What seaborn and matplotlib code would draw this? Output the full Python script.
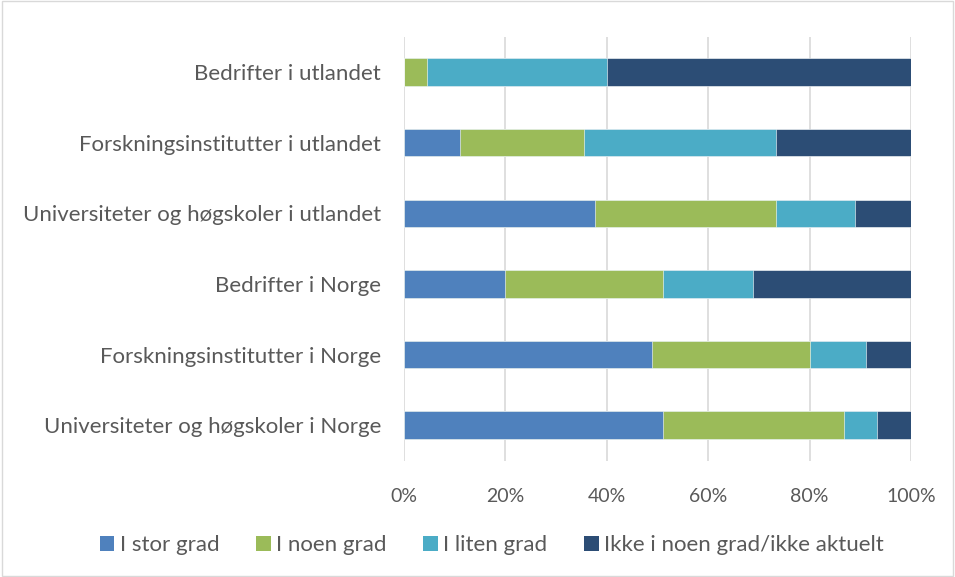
import matplotlib
matplotlib.use("Agg")
import matplotlib.pyplot as plt
import seaborn as sns
import numpy as np
import pandas as pd
from matplotlib.patches import Patch, Rectangle

categories = [
    "Bedrifter i utlandet",
    "Forskningsinstitutter i utlandet",
    "Universiteter og høgskoler i utlandet",
    "Bedrifter i Norge",
    "Forskningsinstitutter i Norge",
    "Universiteter og høgskoler i Norge",
]
series_names = ["I stor grad", "I noen grad", "I liten grad", "Ikke i noen grad/ikke aktuelt"]
stor = [0.0, 11.1, 37.7, 19.9, 48.9, 51.1]
noen = [4.5, 24.4, 35.6, 31.1, 31.1, 35.6]
liten = [35.5, 37.8, 15.7, 17.9, 11.1, 6.6]
ikke = [60.0, 26.7, 11.0, 31.1, 8.9, 6.7]
colors = ["#4F81BD", "#9BBB59", "#4BACC6", "#2C4D75"]
xticks = [0, 20, 40, 60, 80, 100]
xtick_labels = ["0%", "20%", "40%", "60%", "80%", "100%"]

sns.set_theme(style="white")
plt.rcParams["font.family"] = ["Lato", "DejaVu Sans"]
text_color = "#595959"

fig = plt.figure(figsize=(9.55, 5.77), dpi=100)
ax = fig.add_axes([404 / 955, 1 - 460.5 / 577, (911 - 404) / 955, (460.5 - 36.7) / 577])

vals = np.array([stor, noen, liten, ikke])
cum = np.cumsum(vals, axis=0)
for i in range(3, -1, -1):
    df = pd.DataFrame({"cat": categories, "val": cum[i]})
    sns.barplot(data=df, x="val", y="cat", color=colors[i], width=0.39,
                saturation=1, ax=ax, edgecolor="white", linewidth=0.4, zorder=3)

ax.set_xlim(0, 100)
ax.set_ylim(5.5, -0.5)
ax.set_xticks(xticks)
ax.set_xticklabels(xtick_labels)
ax.set_xlabel("")
ax.set_ylabel("")
ax.grid(axis="x", color="#D9D9D9", linewidth=1.2, zorder=0)
ax.set_axisbelow(True)
for s in ax.spines.values():
    s.set_visible(False)
ax.tick_params(axis="both", length=0, colors=text_color)
ax.tick_params(axis="x", pad=20, labelsize=14)
ax.tick_params(axis="y", pad=16.5, labelsize=16)

handles = [Patch(facecolor=c, edgecolor="none") for c in colors]
fig.legend(handles, series_names, loc="center", bbox_to_anchor=(492 / 955, 1 - 545 / 577),
           ncol=4, frameon=False, fontsize=16, labelcolor=text_color,
           handlelength=0.65, handleheight=0.65, handletextpad=0.25, columnspacing=1.65)

fig.patches.append(Rectangle((0.002, 0.002), 0.996, 0.996, transform=fig.transFigure,
                             fill=False, edgecolor="#D9D9D9", linewidth=1))

fig.savefig("out.png", dpi=100)
